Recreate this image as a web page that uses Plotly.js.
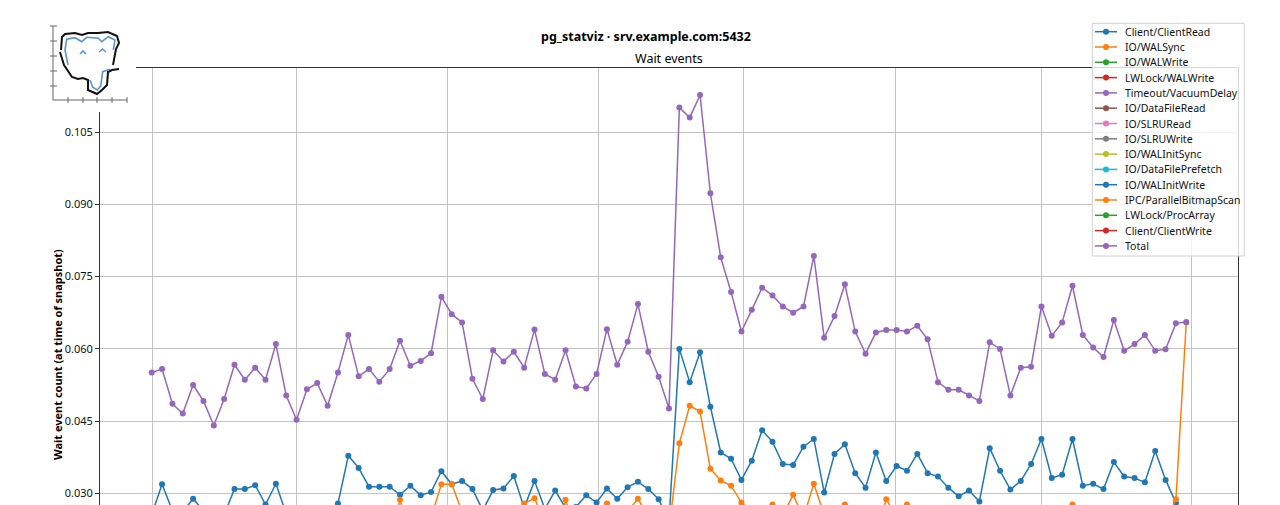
<!DOCTYPE html>
<html>
<head>
<meta charset="utf-8">
<script src="https://cdn.plot.ly/plotly-3.0.1.min.js"></script>
<style>html,body{margin:0;padding:0;overflow:hidden;background:#fff}</style>
</head>
<body>
<div id="chart" style="width:1280px;height:710px"></div>
<script>
// ---------------- data ----------------
const snapshot = [0,1,2,3,4,5,6,7,8,9,10,11,12,13,14,15,16,17,18,19,20,21,22,23,24,25,26,27,28,29,30,31,32,33,34,35,36,37,38,39,40,41,42,43,44,45,46,47,48,49,50,51,52,53,54,55,56,57,58,59,60,61,62,63,64,65,66,67,68,69,70,71,72,73,74,75,76,77,78,79,80,81,82,83,84,85,86,87,88,89,90,91,92,93,94,95,96,97,98,99,100];

const seriesNames = ["Client/ClientRead","IO/WALSync","IO/WALWrite","LWLock/WALWrite","Timeout/VacuumDelay","IO/DataFileRead","IO/SLRURead","IO/SLRUWrite","IO/WALInitSync","IO/DataFilePrefetch","IO/WALInitWrite","IPC/ParallelBitmapScan","LWLock/ProcArray","Client/ClientWrite","Total"];

const clientClientRead = [
0.0256,0.0319,0.0264,0.0262,0.0289,0.0264,0.0252,0.0256,0.0309,0.0309,
0.0317,0.0277,0.0320,0.0258,0.0250,0.0255,0.0262,0.0262,0.0279,0.0378,
0.0353,0.0314,0.0314,0.0314,0.0297,0.0316,0.0296,0.0303,0.0346,0.0319,
0.0326,0.0309,0.0265,0.0307,0.0310,0.0336,0.0270,0.0326,0.0268,0.0306,
0.0270,0.0272,0.0296,0.0281,0.0310,0.0289,0.0313,0.0324,0.0309,0.0288,
0.0242,0.0600,0.0531,0.0593,0.0480,0.0385,0.0372,0.0328,0.0368,0.0431,
0.0407,0.0361,0.0359,0.0397,0.0413,0.0302,0.0382,0.0402,0.0342,0.0312,
0.0385,0.0326,0.0357,0.0347,0.0382,0.0342,0.0335,0.0312,0.0294,0.0306,
0.0283,0.0394,0.0347,0.0308,0.0326,0.0361,0.0413,0.0332,0.0339,0.0413,
0.0316,0.0320,0.0309,0.0365,0.0335,0.0332,0.0323,0.0388,0.0328,0.0280,
0.0010];

const ioWALSync = [
0.0245,0.0200,0.0182,0.0165,0.0190,0.0188,0.0150,0.0198,0.0215,0.0192,
0.0205,0.0220,0.0248,0.0205,0.0170,0.0222,0.0228,0.0185,0.0230,0.0210,
0.0155,0.0200,0.0180,0.0205,0.0287,0.0210,0.0240,0.0250,0.0319,0.0319,
0.0262,0.0195,0.0200,0.0250,0.0225,0.0222,0.0279,0.0290,0.0240,0.0198,
0.0287,0.0215,0.0190,0.0232,0.0279,0.0235,0.0262,0.0289,0.0250,0.0215,
0.0225,0.0404,0.0482,0.0470,0.0351,0.0327,0.0316,0.0281,0.0262,0.0258,
0.0277,0.0255,0.0297,0.0250,0.0320,0.0255,0.0250,0.0277,0.0240,0.0230,
0.0215,0.0288,0.0250,0.0277,0.0232,0.0240,0.0170,0.0175,0.0185,0.0170,
0.0178,0.0190,0.0225,0.0160,0.0205,0.0175,0.0240,0.0255,0.0262,0.0277,
0.0260,0.0250,0.0240,0.0255,0.0232,0.0245,0.0262,0.0175,0.0240,0.0288,
0.0655];

const ioWALWrite = [
.003,.002,.002,.003,.002,.003,.002,.002,.003,.003,
.002,.003,.003,.002,.002,.003,.002,.002,.003,.003,
.002,.003,.002,.003,.002,.002,.002,.003,.003,.002,
.003,.002,.002,.003,.002,.003,.002,.003,.002,.002,
.003,.002,.002,.002,.003,.002,.003,.003,.002,.002,
.001,.005,.004,.004,.006,.005,.002,.002,.003,.003,
.003,.003,.002,.003,.004,.003,.002,.003,.003,.003,
.002,.002,.003,.002,.003,.003,.002,.002,.002,.002,
.002,.002,.002,.002,.002,.002,.003,.002,.003,.003,
.003,.002,.002,.003,.002,.002,.002,.002,.002,.001,
0];

const lwlockWALWrite = [
.001,.001,.001,0,.001,.001,.001,.001,.001,.001,
.001,.001,.001,.001,.001,.001,.001,.001,.001,.001,
.001,.001,.001,.001,.001,.001,.001,.001,.002,.001,
.001,.001,.001,.001,.001,.001,.001,.001,.001,.001,
.001,.001,.001,.001,.001,.001,.001,.002,.001,.001,
0,.002,.001,.001,.002,.001,.001,.001,.001,.001,
.001,.001,.001,.001,.001,.001,.001,.001,.001,.001,
.001,.001,.001,.001,.001,.001,.001,.001,.001,.001,
.001,.001,.001,.001,.001,.001,.001,.001,.001,.001,
.001,.001,.001,.001,.001,.001,.001,.001,.001,.001,
0];

const timeoutVacuumDelay = [
0,0,0,0,0,0,0,0,0,0, 0,0,0,0,0,0,0,0,0,0, 0,0,0,.0005,.0005,0,0,0,0,0,
0,0,0,0,0,0,0,0,0,0, 0,0,0,0,0,0,0,0,0,0, 0,.001,.001,.001,0,0,0,0,0,0,
0,0,0,0,0,0,0,0,0,0, 0,0,0,0,0,0,0,0,0,0, 0,0,0,0,0,0,0,0,0,0,
0,0,0,0,0,0,0,0,0,0, 0];

const ioDataFileRead = [
.0005,0,0,.0005,0,0,0,.0005,0,0, 0,.0005,0,0,0,0,.0005,0,0,0, 0,0,.0005,0,0,0,0,.0005,0,0,
.0005,0,0,0,0,.0005,0,0,0,0, 0,0,.0005,0,0,0,0,0,.0005,0, 0,.001,.0005,.0005,.001,0,0,0,.0005,0,
0,0,0,.0005,0,0,0,0,0,.0005, 0,0,0,0,0,.0005,0,0,0,0, 0,0,.0005,0,0,0,0,0,.0005,0,
0,0,0,.0005,0,0,0,0,0,0, 0];

const ioSLRURead = [
0,0,0,0,0,0,0,0,0,0, 0,0,0,0,0,0,0,0,0,0, 0,0,0,0,0,0,0,0,0,0,
0,0,0,0,0,0,0,0,0,0, 0,0,0,0,0,0,0,0,0,0, 0,.0005,0,0,0,0,0,0,0,0,
0,0,0,0,0,0,0,0,0,0, 0,0,0,0,0,0,0,0,0,0, 0,0,0,0,0,0,0,0,0,0,
0,0,0,0,0,0,0,0,0,0, 0];

const ioSLRUWrite = [
0,0,0,0,0,0,0,0,0,0, 0,0,0,0,0,0,0,0,0,0, 0,0,0,0,.0005,0,0,0,0,0,
0,0,0,0,0,0,0,0,0,0, 0,0,0,0,.0005,0,0,0,0,0, 0,0,0,0,0,0,0,0,0,0,
0,0,0,0,0,0,0,0,0,0, 0,0,0,0,0,0,0,0,0,0, 0,0,0,0,0,0,0,0,0,0,
0,0,0,0,0,0,0,0,0,0, 0];

const ioWALInitSync = [
0,0,0,0,0,0,0,0,0,0, 0,0,0,0,0,0,0,0,0,0, 0,0,0,0,0,0,0,0,0,0,
0,0,0,0,0,0,0,0,0,0, 0,0,0,0,0,0,0,0,0,0, 0,.0005,0,0,0,0,0,0,0,0,
0,0,0,0,0,0,0,0,0,0, 0,0,0,0,0,0,0,0,0,0, 0,0,0,0,0,0,0,0,0,0,
0,0,0,0,0,0,0,0,0,0, 0];

const ioDataFilePrefetch = [
0,0,0,0,0,0,0,0,0,0, 0,0,0,0,0,0,0,0,0,0, 0,0,0,0,0,0,0,0,0,0,
0,0,0,0,0,0,0,0,0,0, 0,0,0,0,0,0,0,0,0,0, 0,0,0,0,0,0,0,0,0,0,
0,0,0,0,0,0,0,0,0,0, 0,0,0,0,0,0,0,0,0,0, 0,0,0,0,0,0,0,0,0,0,
0,0,0,0,0,0,0,0,0,0, 0];

const ioWALInitWrite = [
0,0,0,0,0,0,0,0,0,0, 0,0,0,0,0,0,0,0,0,0, 0,0,0,0,0,0,0,0,0,0,
0,0,0,0,0,0,0,0,0,0, 0,0,0,0,0,0,0,0,0,0, 0,.0005,0,0,0,0,0,0,0,0,
0,0,0,0,0,0,0,0,0,0, 0,0,0,0,0,0,0,0,0,0, 0,0,0,0,0,0,0,0,0,0,
0,0,0,0,0,0,0,0,0,0, 0];

const ipcParallelBitmapScan = [
0,0,0,0,0,0,0,0,0,0, 0,0,0,0,0,0,0,0,0,0, 0,0,0,0,0,0,0,0,0,0,
0,0,0,0,0,0,0,0,0,0, 0,0,0,0,0,0,0,0,0,0, 0,0,0,0,0,0,0,0,0,0,
0,0,0,0,0,0,0,0,0,0, 0,0,0,0,0,0,0,0,0,0, 0,0,0,0,0,0,0,0,0,0,
0,0,0,0,0,0,0,0,0,0, 0];

const lwlockProcArray = [
0,0,0,0,0,0,0,0,0,0, 0,0,0,0,0,0,0,0,0,0, 0,0,0,0,0,0,0,0,0,0,
0,0,0,0,0,0,0,0,0,0, 0,0,0,0,0,0,0,0,0,0, 0,.0005,0,0,0,0,0,0,0,0,
0,0,0,0,0,0,0,0,0,0, 0,0,0,0,0,0,0,0,0,0, 0,0,0,0,0,0,0,0,0,0,
0,0,0,0,0,0,0,0,0,0, 0];

const clientClientWrite = [
0,0,0,0,0,0,0,0,0,0, 0,0,0,0,0,0,0,0,0,0, 0,0,0,0,0,0,0,0,0,0,
0,0,0,0,0,0,0,0,0,0, 0,0,0,0,0,0,0,0,0,0, 0,0,0,0,0,0,0,0,0,0,
0,0,0,0,0,0,0,0,0,0, 0,0,0,0,0,0,0,0,0,0, 0,0,0,0,0,0,0,0,0,0,
0,0,0,0,0,0,0,0,0,0, 0];

const total = [
0.0551,0.0558,0.0486,0.0466,0.0525,0.0492,0.0441,0.0496,0.0567,0.0536,
0.0561,0.0536,0.0610,0.0503,0.0453,0.0516,0.0529,0.0482,0.0551,0.0629,
0.0543,0.0558,0.0532,0.0558,0.0617,0.0565,0.0575,0.0591,0.0708,0.0672,
0.0655,0.0538,0.0496,0.0597,0.0574,0.0594,0.0561,0.0640,0.0548,0.0536,
0.0597,0.0522,0.0518,0.0548,0.0641,0.0567,0.0615,0.0693,0.0594,0.0542,
0.0476,0.1101,0.1080,0.1127,0.0923,0.0790,0.0718,0.0636,0.0681,0.0727,
0.0711,0.0688,0.0675,0.0688,0.0793,0.0623,0.0668,0.0734,0.0636,0.0590,
0.0634,0.0639,0.0639,0.0636,0.0648,0.0620,0.0531,0.0515,0.0515,0.0503,
0.0492,0.0614,0.0600,0.0503,0.0561,0.0563,0.0688,0.0627,0.0655,0.0731,
0.0629,0.0603,0.0583,0.0660,0.0596,0.0610,0.0629,0.0596,0.0599,0.0653,
0.0656];

const seriesValues = [clientClientRead, ioWALSync, ioWALWrite, lwlockWALWrite, timeoutVacuumDelay,
  ioDataFileRead, ioSLRURead, ioSLRUWrite, ioWALInitSync, ioDataFilePrefetch, ioWALInitWrite,
  ipcParallelBitmapScan, lwlockProcArray, clientClientWrite, total];

const palette = ["#1f77b4","#ff7f0e","#2ca02c","#d62728","#9467bd","#8c564b","#e377c2","#7f7f7f","#bcbd22","#17becf"];

const titleText = "pg_statviz · srv.example.com:5432";
const subtitleText = "Wait events";
const yTitleText = "Wait event count (at time of snapshot)";
const yTickVals = [0.030, 0.045, 0.060, 0.075, 0.090, 0.105];
const yTickText = ["0.030", "0.045", "0.060", "0.075", "0.090", "0.105"];
const xGridVals = [0.07, 14.04, 28.6, 43.19, 57.23, 71.86, 85.96, 100.5];

// ---------------- layout helpers ----------------
const W = 1280, H = 710, L = 100, R = 42, T = 68, B = 60;
const PW = W - L - R, PH = H - T - B;
const fx = px => (px - L) / PW;
const fy = py => (H - B - py) / PH;
const FONT = "Noto Sans, Open Sans, sans-serif";

const traces = seriesNames.map((name, i) => ({
  type: "scatter", mode: "lines+markers", name: name,
  x: snapshot, y: seriesValues[i],
  line: {color: palette[i % 10], width: 1.5},
  marker: {color: palette[i % 10], size: 6},
  hoverinfo: "skip"
}));

const shapes = [];
const annotations = [];

function poly(pts) {
  return "M" + pts.map(p => fx(p[0]).toFixed(5) + "," + fy(p[1]).toFixed(5)).join(" L");
}
function pxLine(x0, y0, x1, y1, color, width) {
  shapes.push({type: "line", xref: "paper", yref: "paper", layer: "above",
    x0: fx(x0), y0: fy(y0), x1: fx(x1), y1: fy(y1), line: {color: color, width: width}});
}

// faint gridlines below the visible window (0.015, 0.000) keep the full axis look
// logo: white background, little axes, elephant
shapes.push({type: "rect", xref: "paper", yref: "paper", layer: "above",
  x0: fx(40), x1: fx(136), y0: fy(112), y1: fy(16), fillcolor: "#ffffff", line: {width: 0}});
pxLine(53, 26, 53, 100, "#666", 1);
pxLine(53, 100, 127, 100, "#666", 1);
[26, 41, 56, 71, 86].forEach(y => pxLine(50, y, 57, y, "#666", 1));
[68, 83, 97, 112, 127].forEach(x => pxLine(x, 97, x, 103, "#666", 1));
const blackOutline = [
  [[61,50],[62,37],[65,34],[75,33],[82,35],[88,33],[98,33],[108,32],[117,36],[119,43],[116,49],[113,65]],
  [[60,52],[64,65],[72,77],[78,79],[83,78],[88,80],[88,90],[97,94],[102,90],[107,85],[108,72],[112,70],[119,69]]
];
blackOutline.forEach(p => shapes.push({type: "path", xref: "paper", yref: "paper", layer: "above",
  path: poly(p), line: {color: "#111", width: 2}}));
const blueOutline = [
  [[68,65],[65,50],[66.7,39.3],[75,37.7],[81.7,41.7],[86.7,37.3],[98.3,38.3],[101.7,41.7],[108.3,36.7],[115,40],[113.3,50]],
  [[80,54],[83,51],[86,54]],
  [[99,52],[102.5,49],[106,52]],
  [[90,80],[92.7,87.3],[97.3,90],[100.7,86],[102.7,71.7],[110,69.3]]
];
blueOutline.forEach(p => shapes.push({type: "path", xref: "paper", yref: "paper", layer: "above",
  path: poly(p), line: {color: "#5b93d3", width: 1.6}}));

// legend (matplotlib-like compact box)
shapes.push({type: "rect", xref: "paper", yref: "paper", layer: "above",
  x0: fx(1092.3), x1: fx(1244.3), y0: fy(256), y1: fy(23.3),
  fillcolor: "rgba(255,255,255,0.8)", line: {color: "#d0d0d0", width: 1}});
seriesNames.forEach((name, k) => {
  const cy = 31.7 + k * 15.3;
  const c = palette[k % 10];
  pxLine(1095, cy, 1117, cy, c, 1.5);
  shapes.push({type: "circle", xref: "paper", yref: "paper", layer: "above",
    x0: fx(1106 - 3), x1: fx(1106 + 3), y0: fy(cy + 3), y1: fy(cy - 3),
    fillcolor: c, line: {color: c, width: 0}});
  annotations.push({xref: "paper", yref: "paper", x: fx(1124), y: fy(cy), xanchor: "left", yanchor: "middle",
    text: name, showarrow: false, font: {family: FONT, size: 10.5, color: "#111"}, borderpad: 0});
});

annotations.push({xref: "paper", yref: "paper", x: fx(645.5), y: fy(36.7), xanchor: "center", yanchor: "middle",
  text: "<b>" + titleText + "</b>", showarrow: false, font: {family: FONT, size: 12.5, color: "#000"}});
annotations.push({xref: "paper", yref: "paper", x: 0.5, y: fy(58.5), xanchor: "center", yanchor: "middle",
  text: subtitleText, showarrow: false, font: {family: FONT, size: 12.5, color: "#000"}});
annotations.push({xref: "paper", yref: "paper", x: fx(57), y: fy(355), xanchor: "center", yanchor: "middle",
  textangle: -90, text: "<b>" + yTitleText + "</b>", showarrow: false, font: {family: FONT, size: 11, color: "#000"}});

const layout = {
  width: W, height: H,
  margin: {l: L, r: R, t: T, b: B},
  paper_bgcolor: "#ffffff", plot_bgcolor: "#ffffff",
  showlegend: false,
  font: {family: FONT, size: 11, color: "#111"},
  xaxis: {
    range: [-5, 105], tickmode: "array", tickvals: xGridVals, showticklabels: false,
    showgrid: true, gridcolor: "#c4c4c4", gridwidth: 1, zeroline: false,
    showline: true, linecolor: "#333", linewidth: 1, mirror: true, ticks: ""
  },
  yaxis: {
    range: [-0.0025, 0.1183], tickmode: "array", tickvals: yTickVals, ticktext: yTickText,
    showgrid: true, gridcolor: "#c4c4c4", gridwidth: 1, zeroline: false,
    showline: true, linecolor: "#333", linewidth: 1, mirror: true,
    ticks: "outside", ticklen: 4, tickcolor: "#333", tickfont: {family: FONT, size: 11, color: "#111"}
  },
  shapes: shapes,
  annotations: annotations
};

Plotly.newPlot("chart", traces, layout, {staticPlot: true, displayModeBar: false});
</script>
</body>
</html>
